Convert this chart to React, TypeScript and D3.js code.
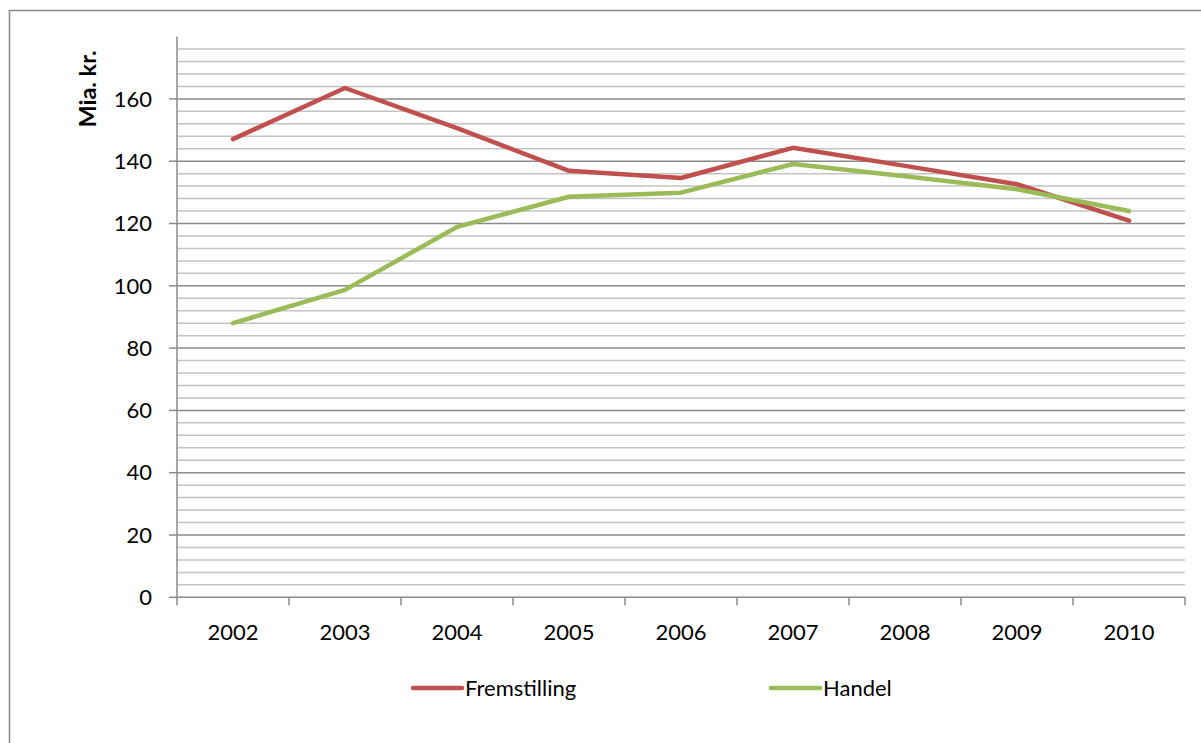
import React from 'react'
import { scaleBand, scaleLinear, line, range } from 'd3'

const years = ['2002', '2003', '2004', '2005', '2006', '2007', '2008', '2009', '2010']
const fremstilling = [147.1, 163.5, 150.6, 136.9, 134.6, 144.3, 138.5, 132.6, 120.9]
const handel = [88, 98.7, 118.9, 128.6, 129.9, 139.1, 135.2, 131, 124]
const seriesNames = ['Fremstilling', 'Handel']
const seriesColors = ['#c0504d', '#9bbb59']
const yLabel = 'Mia. kr.'

const W = 1201, H = 743
const FONT = 'Lato, "Open Sans", sans-serif'

export default function App() {
    const x = scaleBand<string>().domain(years).range([177, 1185])
    const y = scaleLinear().domain([0, 180]).range([597.3, 36.6])

    const majors = range(0, 161, 20)
    const minors = range(4, 180, 4).filter(v => v % 20 !== 0)

    const gen = line<number>()
        .x((_, i) => (x(years[i]) ?? 0) + x.bandwidth() / 2)
        .y(d => y(d))

    const series = [fremstilling, handel]
    const legendX = [413, 771]

    return (
        <svg width={W} height={H} style={{ position: 'absolute', left: 0, top: 0, background: '#fff' }}>
            <rect x={9.5} y={10.5} width={1300} height={900} fill="#fff" stroke="#898989" strokeWidth={1.5} />

            {/* gridlines */}
            {minors.map(v => (
                <line key={'m' + v} x1={177} x2={1185} y1={y(v)} y2={y(v)} stroke="#c3c3c3" strokeWidth={1.5} />
            ))}
            {majors.filter(v => v > 0).map(v => (
                <line key={'M' + v} x1={177} x2={1185} y1={y(v)} y2={y(v)} stroke="#8a8a8a" strokeWidth={1.5} />
            ))}

            {/* y axis */}
            <line x1={177} x2={177} y1={y(180)} y2={y(0)} stroke="#8a8a8a" strokeWidth={1.5} />
            {majors.map(v => (
                <g key={'yt' + v}>
                    <line x1={169} x2={177} y1={y(v)} y2={y(v)} stroke="#8a8a8a" strokeWidth={1.5} />
                    <text x={152} y={y(v)} dy="0.35em" textAnchor="end" fontFamily={FONT} fontSize={22} fill="#000">{v}</text>
                </g>
            ))}
            <text transform={`translate(96, 89) rotate(-90)`} textAnchor="middle" fontFamily={FONT} fontSize={23.5} fontWeight="bold" fill="#000">{yLabel}</text>

            {/* x axis */}
            <line x1={177} x2={1185} y1={y(0)} y2={y(0)} stroke="#8a8a8a" strokeWidth={1.5} />
            {years.concat(['end']).map((yr, i) => {
                const px = 177 + i * x.bandwidth()
                return <line key={'xt' + i} x1={px} x2={px} y1={y(0)} y2={y(0) + 8} stroke="#8a8a8a" strokeWidth={1.5} />
            })}
            {years.map(yr => (
                <text key={yr} x={(x(yr) ?? 0) + x.bandwidth() / 2} y={640} textAnchor="middle" fontFamily={FONT} fontSize={22} fill="#000">{yr}</text>
            ))}

            {/* series */}
            {series.map((s, i) => (
                <path key={i} d={gen(s) ?? ''} fill="none" stroke={seriesColors[i]} strokeWidth={4.5} strokeLinejoin="round" strokeLinecap="round" />
            ))}

            {/* legend */}
            {seriesNames.map((n, i) => (
                <g key={n}>
                    <line x1={legendX[i]} x2={legendX[i] + 49} y1={688} y2={688} stroke={seriesColors[i]} strokeWidth={4.5} strokeLinecap="round" />
                    <text x={legendX[i] + 52} y={688} dy="0.35em" fontFamily={FONT} fontSize={22} fill="#000">{n}</text>
                </g>
            ))}
        </svg>
    )
}
